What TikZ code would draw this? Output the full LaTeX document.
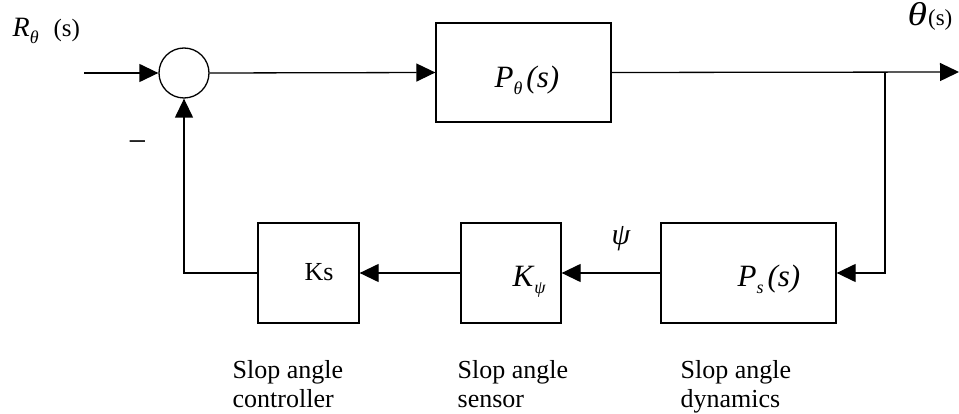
\documentclass[tikz,border=0pt]{standalone}
\usepackage{fontspec}
\setmainfont{Liberation Serif}
\usetikzlibrary{arrows.meta}
\newcommand\mysub[1]{\raisebox{-7pt}{\fontsize{18}{18}\selectfont\itshape #1}}
\begin{document}
\begin{tikzpicture}[x=1pt,y=-1pt,
  line width=1.3pt,
  arr/.style={-{Triangle[length=19pt,width=18pt]}},
  blockbox/.style={draw,rectangle,inner sep=0pt},
  lab/.style={anchor=base west,inner sep=0pt},
  txt/.style={font=\fontsize{26}{29}\selectfont},
  eq/.style={font=\fontsize{31}{33}\selectfont}]
\useasboundingbox (0,0) rectangle (959,414);
% blocks
\node[circle,draw,minimum size=50pt,inner sep=0pt] (sum) at (184,73) {};
\node[blockbox,minimum width=175pt,minimum height=99pt] (pth) at (523.5,72.5) {};
\node[blockbox,minimum width=101pt,minimum height=100pt] (ks) at (308.5,273) {};
\node[blockbox,minimum width=100pt,minimum height=100pt] (kpsi) at (511,273) {};
\node[blockbox,minimum width=175pt,minimum height=100pt] (ps) at (748.5,273) {};
% block texts
\node[lab,eq] (pthtxt) at (494,88) {\itshape P\mysub{θ}\hspace{4pt}(s)};
\node[lab,txt] (kstxt) at (304,280) {Ks};
\node[lab,eq] (kpsitxt) at (512,287) {\itshape K\hspace{1pt}\mysub{ψ}};
\node[lab,eq] (pstxt) at (737,287) {\itshape P\mysub{s}\hspace{4pt}(s)};
% signal labels
\node[lab,font=\fontsize{28}{29}\selectfont] (rlab) at (12,37) {\itshape R\mysub{θ}\hspace{15pt}\upshape\fontsize{25}{25}\selectfont(s)};
\node[lab] (thlab) at (907,26) {\fontsize{33}{33}\selectfont\itshape\scalebox{1.2}[1]{θ}\hspace{1pt}\upshape\fontsize{23}{23}\selectfont(s)};
\node[inner sep=0pt,font=\fontsize{30}{30}\selectfont\itshape] (psilab) at (621,239) {ψ};
\node[inner sep=0pt,font=\fontsize{33}{33}\selectfont] (minus) at (137.5,147) {−};
% captions
\node[lab,txt,align=left] (cap1) at (232,407) {Slop angle\\controller};
\node[lab,txt,align=left] (cap2) at (457,407) {Slop angle\\sensor};
\node[lab,txt,align=left] (cap3) at (680,407) {Slop angle\\dynamics};
% connectors
\coordinate (in) at (84,73);
\coordinate (out) at (959,72);
\coordinate (br) at (885,72);
\coordinate (fb) at (sum.south |- ks.west);
\draw[arr] (in) -- (sum.west);
\draw[arr] (sum.east) -- (pth.west);
\draw[arr] (pth.east) -- (out);
\draw[arr] (br) -- (br |- ps.east) -- (ps.east);
\draw[arr] (ps.west) -- (kpsi.east);
\draw[arr] (kpsi.west) -- (ks.east);
\draw[arr] (ks.west) -- (fb) -- (sum.south);
\end{tikzpicture}
\end{document}
